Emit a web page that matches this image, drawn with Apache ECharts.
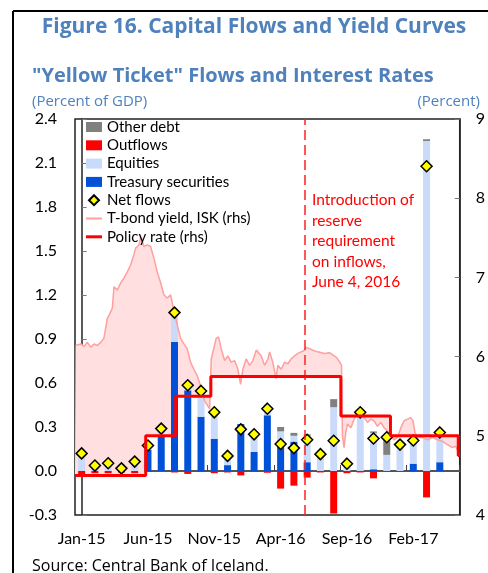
<!DOCTYPE html>
<html>
<head>
<meta charset="utf-8">
<script src="https://cdn.jsdelivr.net/npm/echarts@6/dist/echarts.min.js"></script>
<style>
  html, body { margin: 0; padding: 0; background: #fff; }
  #chart { width: 488px; height: 573px; }
</style>
</head>
<body>
<div id="chart"></div>
<script>
// monthly categories (last slot is empty, the axis runs into May-17)
const months = [
    'Jan-15', 'Feb-15', 'Mar-15', 'Apr-15', 'May-15', 'Jun-15', 'Jul-15', 'Aug-15', 'Sep-15', 'Oct-15', 'Nov-15', 'Dec-15',
    'Jan-16', 'Feb-16', 'Mar-16', 'Apr-16', 'May-16', 'Jun-16', 'Jul-16', 'Aug-16', 'Sep-16', 'Oct-16', 'Nov-16', 'Dec-16',
    'Jan-17', 'Feb-17', 'Mar-17', 'Apr-17', 'May-17'
];

// flows, percent of GDP
const treasury = [0, 0, 0, 0, 0, 0.145, 0.24, 0.88, 0.55, 0.37, 0.22, 0.04,
    0.32, 0.13, 0.38, 0.19, 0.20, 0.06, 0, 0, 0, 0, 0.012, 0,
    0, 0.05, 0, 0.06, null];
const equities = [0.15, 0.05, 0.065, 0.03, 0.08, 0.03, 0.05, 0.19, 0.05, 0.16, 0.18, 0.07,
    0, 0.14, 0.05, 0.08, 0.04, 0.18, 0.12, 0.435, 0.065, 0.41, 0.248, 0.11,
    0.19, 0.17, 2.25, 0.2, null];
const otherDebt = [0, 0, 0, 0, 0, 0, 0, 0, 0, 0, 0, 0,
    0, 0, 0, 0.03, 0.02, 0.01, 0, 0.055, 0, 0, 0.01, 0.125,
    0, 0, 0.012, 0, null];
const outflows = [-0.03, -0.015, -0.015, -0.01, -0.015, -0.005, 0, -0.01, -0.02, -0.005, -0.015, -0.01,
    -0.03, -0.005, -0.012, -0.12, -0.10, -0.045, -0.01, -0.29, -0.015, -0.01, -0.05, -0.005,
    -0.005, -0.005, -0.18, 0, null];
const netFlows = [0.12, 0.037, 0.053, 0.018, 0.064, 0.174, 0.289, 1.08, 0.585, 0.546, 0.40, 0.103,
    0.284, 0.25, 0.425, 0.184, 0.156, 0.213, 0.115, 0.206, 0.05, 0.40, 0.222, 0.23,
    0.18, 0.208, 2.078, 0.263, null];

// T-bond yield (rhs), position in months from mid Jan-15
const yieldX = [-0.45, -0.07, 0.18, 0.43, 0.68, 0.93, 1.18, 1.44, 1.68, 1.93, 2.06, 2.31, 2.44, 2.69, 2.94,
    3.19, 3.44, 3.70, 3.94, 4.07, 4.32, 4.45, 4.57, 4.70, 4.95, 5.20, 5.45, 5.70, 5.96, 6.20,
    6.45, 6.71, 6.96, 7.21, 7.46, 7.71, 7.96, 8.21, 8.46, 8.71, 8.97, 9.27, 9.65, 9.77, 10.14,
    10.32, 10.52, 10.78, 11.02, 11.27, 11.53, 11.78, 11.98, 12.15, 12.40, 12.66, 12.91, 13.16, 13.28, 13.53,
    13.79, 14.04, 14.17, 14.41, 14.66, 14.79, 15.04, 15.30, 15.54, 15.79, 16.05, 16.30, 16.55, 16.80, 16.92,
    17.18, 17.43, 17.80, 18.31, 18.68, 19.21, 19.46, 19.59, 19.66, 19.78, 19.91, 20.04, 20.29, 20.54, 20.79,
    21.04, 21.29, 21.55, 21.80, 22.04, 22.30, 22.55, 22.80, 23.05, 23.30, 23.55, 23.81, 24.06, 24.30, 24.56,
    24.81, 24.98, 25.13, 25.31, 25.69, 26.07, 26.44, 26.82, 27.20, 27.57, 27.95, 28.20, 28.45];
const yieldVal = [6.14, 6.16, 6.13, 6.18, 6.12, 6.16, 6.14, 6.18, 6.23, 6.48, 6.52, 6.61, 6.88, 6.84, 6.93,
    6.99, 7.07, 7.16, 7.29, 7.37, 7.41, 7.50, 7.52, 7.39, 7.41, 7.39, 7.24, 7.07, 6.93, 6.78,
    6.74, 6.78, 6.57, 6.40, 6.23, 6.16, 6.10, 5.93, 5.84, 5.76, 5.63, 5.44, 5.34, 5.97, 6.23,
    6.25, 6.10, 5.95, 6.01, 5.93, 5.95, 5.84, 5.65, 5.84, 5.97, 5.89, 5.95, 6.08, 6.10, 6.01,
    5.89, 5.97, 6.06, 5.93, 5.72, 5.89, 5.84, 5.93, 5.91, 5.97, 6.01, 6.04, 6.06, 6.08, 6.12,
    6.10, 6.08, 6.06, 6.04, 6.05, 5.99, 5.93, 5.89, 5.00, 4.85, 5.04, 5.15, 5.10, 5.21, 5.29,
    5.31, 5.23, 5.17, 5.21, 5.19, 5.12, 5.17, 5.10, 5.06, 5.00, 4.95, 4.98, 5.10, 5.19, 5.21,
    5.23, 5.19, 5.04, 4.98, 4.98, 4.95, 4.98, 4.95, 4.93, 4.89, 4.85, 4.87, 4.76];

// policy rate (rhs): start of each level, in months
const policyStart = [-0.5, 4.83, 7.09, 9.74, 19.54, 23.28, 28.39];
const policyRate = [4.5, 5.0, 5.5, 5.75, 5.25, 5.0, 4.75];
const axisEnd = 28.5;
const reserveReqX = 16.82; // June 4, 2016

const yTicksLeft = { min: -0.3, max: 2.4, step: 0.3 };
const yTicksRight = { min: 4, max: 9, step: 1 };

const FONT = 'Lato, "Open Sans", sans-serif';
const HEAD_FONT = '"Open Sans", Lato, sans-serif';
const BLUE_TXT = '#4f81bd';

// step outline of the policy rate
const policySteps = [];
for (let i = 0; i < policyStart.length; i++) {
    const end = i + 1 < policyStart.length ? policyStart[i + 1] : axisEnd;
    policySteps.push([policyStart[i], policyRate[i]], [end, policyRate[i]]);
}
const yieldData = yieldX.map((x, i) => [x, yieldVal[i]]);

const chartDom = document.getElementById('chart');
const myChart = echarts.init(chartDom);

const barBase = { type: 'bar', stack: 'flows', barWidth: 7, xAxisIndex: 0, yAxisIndex: 0, z: 2 };

const option = {
    animation: false,
    backgroundColor: '#fff',
    textStyle: { fontFamily: FONT },
    grid: {
        left: 75, right: 28, top: 119, bottom: 58,
        show: true, borderColor: '#222', borderWidth: 1.5, backgroundColor: 'transparent'
    },
    legend: {
        orient: 'vertical', left: 86, top: 119, padding: 0,
        itemWidth: 16, itemHeight: 10, itemGap: 2.3, symbolKeepAspect: true,
        textStyle: { fontSize: 15, color: '#000', fontFamily: FONT, lineHeight: 16 },
        data: [
            { name: 'Other debt', icon: 'rect' },
            { name: 'Outflows', icon: 'rect' },
            { name: 'Equities', icon: 'rect' },
            { name: 'Treasury securities', icon: 'rect' },
            { name: 'Net flows', icon: 'path://M5,0 L10,5 L5,10 L0,5 Z' },
            { name: 'T-bond yield, ISK (rhs)', icon: 'path://M0,0 H16 V2 H0 Z' },
            { name: 'Policy rate (rhs)', icon: 'path://M0,0 H16 V3 H0 Z' }
        ]
    },
    xAxis: [
        {
            // zero line with ticks
            type: 'category', data: months, position: 'bottom',
            axisLine: { onZero: true, lineStyle: { color: '#555', width: 2 } },
            axisTick: { show: true, inside: true, interval: 4, length: 6, lineStyle: { color: '#444', width: 1 } },
            axisLabel: { show: false }
        },
        {
            // labels along the bottom
            type: 'category', data: months, position: 'bottom',
            axisLine: { show: false, onZero: false },
            axisTick: { show: false },
            axisLabel: { interval: 4, fontSize: 16, color: '#000', margin: 16, fontFamily: FONT }
        },
        { type: 'value', min: -0.5, max: axisEnd, show: false }
    ],
    yAxis: [
        {
            type: 'value', min: yTicksLeft.min, max: yTicksLeft.max, interval: yTicksLeft.step,
            axisLine: { show: true, lineStyle: { color: '#222', width: 1.5 } },
            axisTick: { show: true, inside: true, length: 5, lineStyle: { color: '#777' } },
            splitLine: { show: false },
            axisLabel: { fontSize: 16, color: '#000', margin: 18, fontFamily: FONT, formatter: v => v.toFixed(1) }
        },
        {
            type: 'value', position: 'right', min: yTicksRight.min, max: yTicksRight.max, interval: yTicksRight.step,
            axisLine: { show: true, lineStyle: { color: '#222', width: 1.5 } },
            axisTick: { show: true, inside: true, length: 5, lineStyle: { color: '#777' } },
            splitLine: { show: false },
            axisLabel: { fontSize: 16, color: '#000', margin: 16, fontFamily: FONT }
        }
    ],
    series: [
        {
            // shaded gap between the bond yield and the policy rate
            name: 'spread', type: 'custom', xAxisIndex: 2, yAxisIndex: 1, z: 1, silent: true,
            data: [[0, 5]],
            renderItem: function (params, api) {
                const pts = [];
                for (const p of yieldData) pts.push(api.coord(p));
                for (let i = policySteps.length - 1; i >= 0; i--) pts.push(api.coord(policySteps[i]));
                return { type: 'polygon', shape: { points: pts }, style: { fill: '#ffdfdf' } };
            }
        },
        Object.assign({ name: 'Treasury securities', data: treasury, itemStyle: { color: '#0050d8' } }, barBase),
        Object.assign({ name: 'Equities', data: equities, itemStyle: { color: '#c9dafa' } }, barBase),
        Object.assign({ name: 'Other debt', data: otherDebt, itemStyle: { color: '#808080' } }, barBase),
        Object.assign({ name: 'Outflows', data: outflows, itemStyle: { color: '#ff0000' } }, barBase),
        {
            name: 'T-bond yield, ISK (rhs)', type: 'line', xAxisIndex: 2, yAxisIndex: 1, z: 3,
            data: yieldData, symbol: 'none', showSymbol: false,
            itemStyle: { color: '#ff9f9f' },
            lineStyle: { color: '#ff9f9f', width: 1.5 }
        },
        {
            name: 'Net flows', type: 'scatter', xAxisIndex: 0, yAxisIndex: 0, z: 4,
            data: netFlows, symbol: 'diamond', symbolSize: 11,
            itemStyle: { color: '#ffff00', borderColor: '#000', borderWidth: 1.5, opacity: 1 }
        },
        {
            name: 'Policy rate (rhs)', type: 'line', xAxisIndex: 2, yAxisIndex: 1, z: 5,
            data: policySteps, symbol: 'none', showSymbol: false,
            itemStyle: { color: '#ff0000' },
            lineStyle: { color: '#ff0000', width: 3 },
            markLine: {
                silent: true, symbol: 'none', label: { show: false },
                lineStyle: { color: '#ff2020', type: [10, 5], width: 1.5 },
                data: [{ xAxis: reserveReqX }]
            }
        }
    ],
    graphic: [
        { type: 'line', shape: { x1: 13, y1: 11, x2: 13, y2: 573 }, style: { stroke: '#000', lineWidth: 2 } },
        { type: 'line', shape: { x1: 13, y1: 11, x2: 488, y2: 11 }, style: { stroke: '#000', lineWidth: 2 } },
        {
            type: 'text', x: 254, y: 27,
            style: { text: 'Figure 16. Capital Flows and Yield Curves', fill: BLUE_TXT, font: 'bold 21px ' + HEAD_FONT, textAlign: 'center', textVerticalAlign: 'middle' }
        },
        {
            type: 'text', x: 32, y: 76,
            style: { text: '"Yellow Ticket" Flows and Interest Rates', fill: BLUE_TXT, font: 'bold 20px ' + HEAD_FONT, textAlign: 'left', textVerticalAlign: 'middle' }
        },
        {
            type: 'text', x: 32, y: 102,
            style: { text: '(Percent of GDP)', fill: BLUE_TXT, font: '15px ' + HEAD_FONT, textAlign: 'left', textVerticalAlign: 'middle' }
        },
        {
            type: 'text', x: 480, y: 102,
            style: { text: '(Percent)', fill: BLUE_TXT, font: '15px ' + HEAD_FONT, textAlign: 'right', textVerticalAlign: 'middle' }
        },
        {
            type: 'text', x: 312, y: 190, z: 10,
            style: {
                text: 'Introduction of\nreserve\nrequirement\non inflows,\nJune 4, 2016',
                fill: '#ff0000', font: '15.5px ' + FONT, lineHeight: 20.5, textAlign: 'left', textVerticalAlign: 'top'
            }
        },
        {
            type: 'text', x: 32, y: 566,
            style: { text: 'Source: Central Bank of Iceland.', fill: '#000', font: '16px ' + HEAD_FONT, textAlign: 'left', textVerticalAlign: 'middle' }
        }
    ]
};

myChart.setOption(option);
</script>
</body>
</html>
